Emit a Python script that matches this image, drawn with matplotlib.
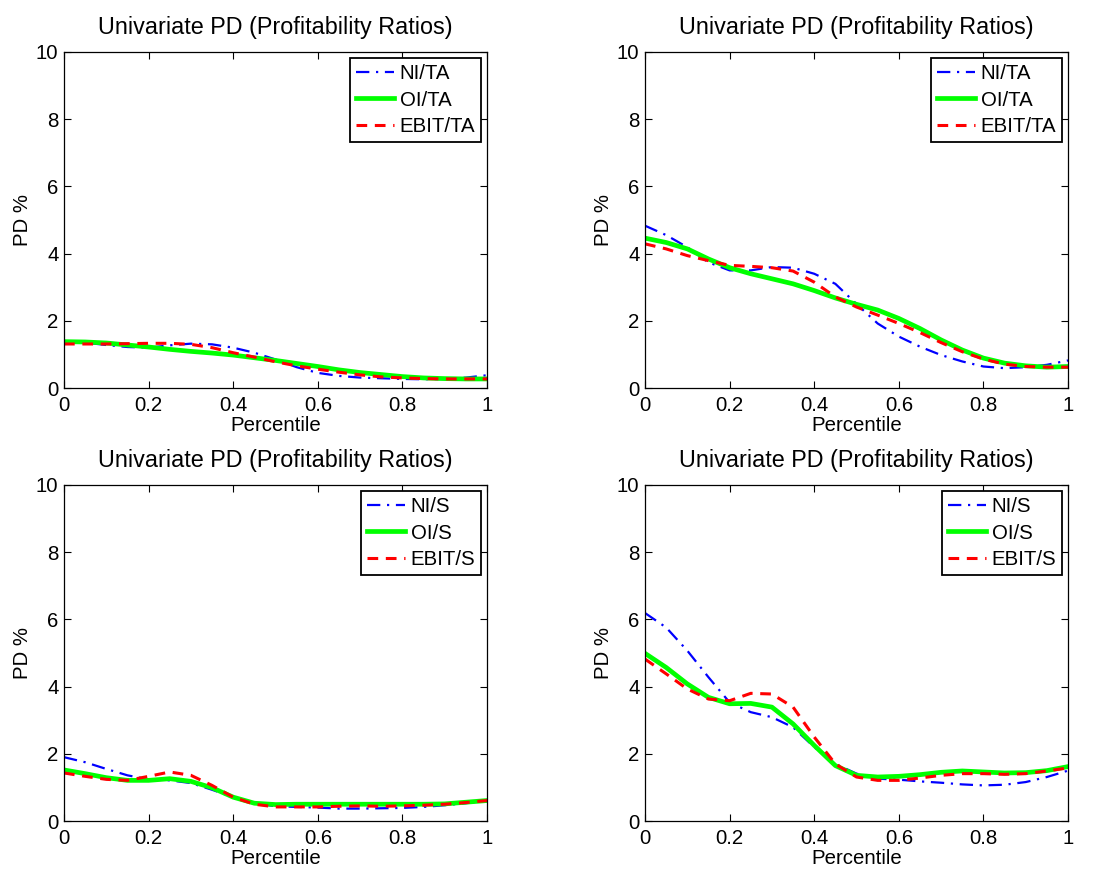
import matplotlib
matplotlib.use("Agg")
import matplotlib.pyplot as plt
from matplotlib.ticker import FixedLocator

plt.rcParams['font.family'] = ['Liberation Sans', 'DejaVu Sans']

percentile = [0.0, 0.05, 0.1, 0.15, 0.2, 0.25, 0.3, 0.35, 0.4, 0.45, 0.5,
              0.55, 0.6, 0.65, 0.7, 0.75, 0.8, 0.85, 0.9, 0.95, 1.0]

# Top-left
ni_ta_1 = [1.40, 1.35, 1.28, 1.22, 1.20, 1.27, 1.32, 1.30, 1.20, 1.05, 0.85,
           0.62, 0.45, 0.36, 0.31, 0.29, 0.27, 0.26, 0.27, 0.31, 0.38]
oi_ta_1 = [1.38, 1.37, 1.34, 1.28, 1.22, 1.15, 1.09, 1.04, 0.98, 0.90, 0.82,
           0.73, 0.64, 0.54, 0.46, 0.40, 0.34, 0.30, 0.28, 0.27, 0.27]
ebit_ta_1 = [1.31, 1.31, 1.31, 1.32, 1.33, 1.33, 1.30, 1.20, 1.05, 0.92, 0.78,
             0.66, 0.56, 0.47, 0.39, 0.33, 0.30, 0.28, 0.27, 0.27, 0.27]

# Top-right
ni_ta_2 = [4.83, 4.55, 4.19, 3.74, 3.50, 3.50, 3.60, 3.58, 3.40, 3.10, 2.50,
           1.92, 1.53, 1.23, 0.98, 0.79, 0.64, 0.59, 0.62, 0.69, 0.82]
oi_ta_2 = [4.46, 4.33, 4.14, 3.84, 3.58, 3.40, 3.25, 3.10, 2.90, 2.68, 2.49,
           2.32, 2.07, 1.77, 1.43, 1.13, 0.89, 0.74, 0.66, 0.62, 0.64]
ebit_ta_2 = [4.29, 4.14, 3.94, 3.79, 3.65, 3.62, 3.58, 3.48, 3.15, 2.71, 2.41,
             2.17, 1.92, 1.65, 1.35, 1.08, 0.86, 0.71, 0.64, 0.62, 0.62]

# Bottom-left
ni_s_1 = [1.90, 1.75, 1.55, 1.36, 1.24, 1.21, 1.13, 0.93, 0.71, 0.53, 0.44,
          0.42, 0.40, 0.37, 0.37, 0.38, 0.39, 0.42, 0.47, 0.53, 0.61]
oi_s_1 = [1.52, 1.41, 1.29, 1.21, 1.21, 1.26, 1.18, 0.99, 0.71, 0.53, 0.49,
          0.50, 0.50, 0.50, 0.50, 0.50, 0.50, 0.50, 0.51, 0.56, 0.61]
ebit_s_1 = [1.43, 1.33, 1.24, 1.21, 1.33, 1.46, 1.36, 1.06, 0.71, 0.50, 0.42,
            0.42, 0.42, 0.44, 0.45, 0.44, 0.45, 0.47, 0.50, 0.55, 0.61]

# Bottom-right
ni_s_2 = [6.19, 5.76, 5.07, 4.28, 3.53, 3.24, 3.09, 2.79, 2.20, 1.70, 1.41,
          1.26, 1.23, 1.18, 1.14, 1.09, 1.06, 1.08, 1.16, 1.31, 1.50]
oi_s_2 = [4.99, 4.57, 4.08, 3.68, 3.49, 3.50, 3.39, 2.89, 2.25, 1.65, 1.36,
          1.31, 1.33, 1.38, 1.45, 1.49, 1.46, 1.43, 1.44, 1.50, 1.62]
ebit_s_2 = [4.82, 4.38, 3.93, 3.63, 3.58, 3.80, 3.78, 3.39, 2.50, 1.70, 1.31,
            1.21, 1.21, 1.28, 1.36, 1.41, 1.41, 1.39, 1.41, 1.49, 1.58]

title = "Univariate PD (Profitability Ratios)"
xlabel = "Percentile"
ylabel = "PD %"
labels_ta = ["NI/TA", "OI/TA", "EBIT/TA"]
labels_s = ["NI/S", "OI/S", "EBIT/S"]
xticks = [0, 0.2, 0.4, 0.6, 0.8, 1]
xticklabels = ["0", "0.2", "0.4", "0.6", "0.8", "1"]
yticks = [0, 2, 4, 6, 8, 10]

panels = [
    ([0.0584, 0.5535, 0.386, 0.3867], (ni_ta_1, oi_ta_1, ebit_ta_1), labels_ta),
    ([0.5885, 0.5535, 0.386, 0.3867], (ni_ta_2, oi_ta_2, ebit_ta_2), labels_ta),
    ([0.0584, 0.0552, 0.386, 0.3867], (ni_s_1, oi_s_1, ebit_s_1), labels_s),
    ([0.5885, 0.0552, 0.386, 0.3867], (ni_s_2, oi_s_2, ebit_s_2), labels_s),
]

fig = plt.figure(figsize=(10.96, 8.69), dpi=100)
FS = 14.7
TFS = 16.8
for rect, (ni, oi, ebit), labs in panels:
    ax = fig.add_axes(rect)
    ax.plot(percentile, ni, color='#0000ff', linestyle=(0, (6, 3, 1, 3)), lw=1.6, label=labs[0])
    ax.plot(percentile, oi, color='#00ff00', linestyle='-', lw=3.4, label=labs[1])
    ax.plot(percentile, ebit, color='#ff0000', linestyle=(0, (3.5, 2.5)), lw=2.2, label=labs[2])
    ax.set_xlim(0, 1)
    ax.set_ylim(0, 10)
    ax.xaxis.set_major_locator(FixedLocator(xticks))
    ax.set_xticklabels(xticklabels)
    ax.set_yticks(yticks)
    ax.tick_params(direction='in', length=5, width=0.8, top=True, right=True,
                   labelsize=FS)
    ax.tick_params(axis='x', pad=6)
    ax.tick_params(axis='y', pad=4)
    for s in ax.spines.values():
        s.set_linewidth(0.9)
    ax.set_title(title, fontsize=TFS, pad=13)
    ax.set_xlabel(xlabel, fontsize=FS, labelpad=0.5)
    ax.set_ylabel(ylabel, fontsize=FS, labelpad=3)
    leg = ax.legend(loc='upper right', fontsize=FS, fancybox=False, framealpha=1,
                    edgecolor='black', handlelength=1.9, handletextpad=0.25,
                    borderaxespad=0.3, labelspacing=0.38, borderpad=0.28)
    leg.get_frame().set_linewidth(1.3)

fig.savefig("out.png", dpi=100)
